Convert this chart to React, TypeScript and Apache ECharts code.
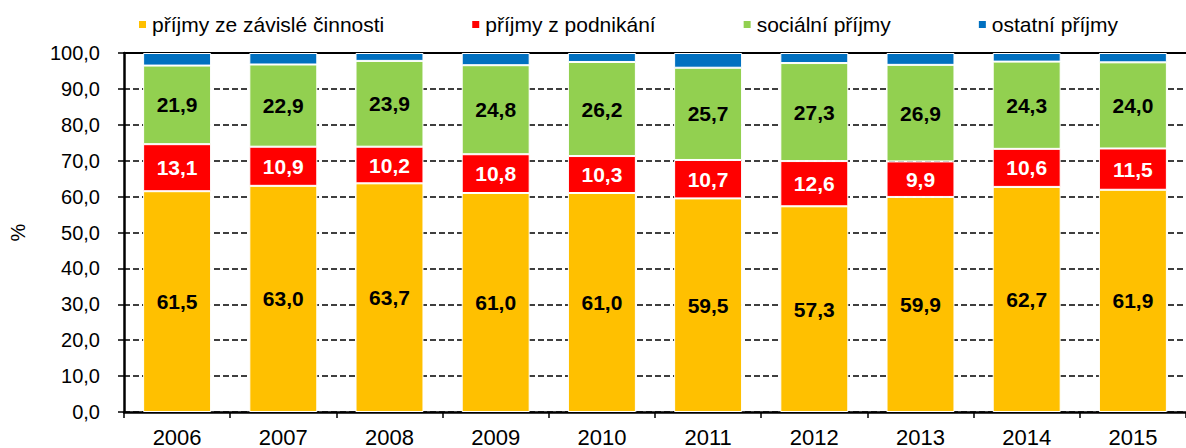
import React, { useEffect, useRef } from "react";
import * as echarts from "echarts";

const years = ["2006", "2007", "2008", "2009", "2010", "2011", "2012", "2013", "2014", "2015"];
const zavisle = [61.5, 63.0, 63.7, 61.0, 61.0, 59.5, 57.3, 59.9, 62.7, 61.9];
const podnikani = [13.1, 10.9, 10.2, 10.8, 10.3, 10.7, 12.6, 9.9, 10.6, 11.5];
const socialni = [21.9, 22.9, 23.9, 24.8, 26.2, 25.7, 27.3, 26.9, 24.3, 24.0];
const ostatni = [3.5, 3.2, 2.2, 3.4, 2.5, 4.1, 2.8, 3.3, 2.4, 2.6];
const seriesNames = ["příjmy ze závislé činnosti", "příjmy z podnikání", "sociální příjmy", "ostatní příjmy"];
const colors = ["#FFC000", "#FF0000", "#92D050", "#0070C0"];

const FONT = "Liberation Sans, Arial, sans-serif";
const fmt = (v: number) => v.toFixed(1).replace(".", ",");

export default function App() {
  const ref = useRef<HTMLDivElement>(null);
  useEffect(() => {
    document.body.style.margin = "0";
    const chart = echarts.init(ref.current!, undefined, { renderer: "svg" });
    const dataSets = [zavisle, podnikani, socialni, ostatni];
    const labelColors = ["#000", "#fff", "#000", "#000"];
    chart.setOption({
      animation: false,
      textStyle: { fontFamily: FONT },
      legend: {
        left: 132,
        top: 9,
        itemGap: 86,
        itemWidth: 9,
        itemHeight: 9,
        icon: "rect",
        textStyle: { fontSize: 21, color: "#000", fontFamily: FONT },
        data: seriesNames,
      },
      grid: { left: 121, top: 53, width: 1073, height: 360 },
      xAxis: [
        {
          type: "category",
          data: years,
          axisLine: { lineStyle: { color: "#000", width: 2.5 } },
          axisTick: { show: true, length: 6, lineStyle: { color: "#000", width: 1.5 } },
          axisLabel: { color: "#000", fontSize: 22, margin: 14, fontFamily: FONT },
        },
        {
          type: "category",
          position: "top",
          data: years,
          axisLine: { lineStyle: { color: "#000", width: 2 } },
          axisTick: { show: false },
          axisLabel: { show: false },
        },
      ],
      yAxis: {
        type: "value",
        min: 0,
        max: 100,
        interval: 10,
        name: "%",
        nameLocation: "middle",
        nameGap: 96,
        nameRotate: 90,
        nameTextStyle: { color: "#000", fontSize: 20, fontFamily: FONT },
        axisLine: { show: true, lineStyle: { color: "#000", width: 2.5 } },
        axisTick: { show: true, length: 6, lineStyle: { color: "#000", width: 1.5 } },
        axisLabel: { color: "#000", fontSize: 20, margin: 24, fontFamily: FONT, formatter: (v: number) => fmt(v) },
        splitLine: { show: true, lineStyle: { color: "#000", width: 1.5, type: [6, 3] } },
      },
      series: dataSets.map((d, i) => ({
        name: seriesNames[i],
        type: "bar",
        stack: "total",
        barWidth: "64%",
        data: d,
        itemStyle: { color: colors[i], borderColor: "#fff", borderWidth: 1 },
        label: {
          show: i < 3,
          position: "inside",
          color: labelColors[i],
          fontWeight: "bold",
          fontSize: 21,
          fontFamily: FONT,
          formatter: (p: any) => fmt(p.value),
        },
      })),
    });
    return () => chart.dispose();
  }, []);
  return <div ref={ref} style={{ width: 1186, height: 448 }} />;
}
